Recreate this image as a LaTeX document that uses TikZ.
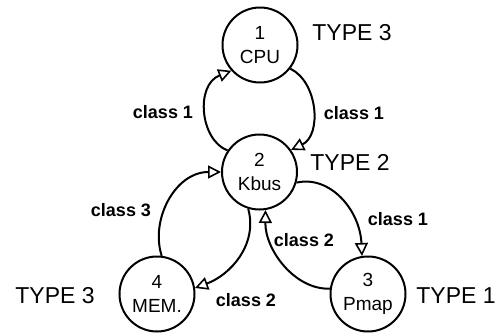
\documentclass[tikz,border=0pt]{standalone}
\usepackage{fontspec}
\setmainfont{Liberation Sans}
\usetikzlibrary{arrows.meta}
\begin{document}
\begin{tikzpicture}[x=1pt,y=-1pt,
  unit/.style={circle,draw,line width=2pt,minimum size=75pt,inner sep=0pt,align=center,
    font=\fontsize{19}{24}\selectfont},
  typelbl/.style={font=\fontsize{23}{25}\selectfont},
  classlbl/.style={font=\bfseries\fontsize{18}{20}\selectfont},
  link/.style={line width=2pt,-{Triangle[open,length=13pt,width=13pt,line width=1.6pt]}}]
\useasboundingbox (0,0) rectangle (496,335);
\node[unit] (cpu) at (260,45) {1\\CPU};
\node[unit] (kbus) at (259.5,172) {2\\Kbus};
\node[unit] (mem) at (157,294) {4\\MEM.};
\node[unit] (pmap) at (368,294) {3\\Pmap};
\node[typelbl] (t1) at (352,33) {TYPE 3};
\node[typelbl] (t2) at (350,162) {TYPE 2};
\node[typelbl] (t3) at (55,296) {TYPE 3};
\node[typelbl] (t4) at (456,296) {TYPE 1};
\node[classlbl] (c1) at (163,112) {class 1};
\node[classlbl] (c2) at (354,113) {class 1};
\node[classlbl] (c3) at (121,210) {class 3};
\node[classlbl] (c4) at (398,219) {class 1};
\node[classlbl] (c5) at (304,240) {class 2};
\node[classlbl] (c6) at (246,300) {class 2};
\draw[link] (kbus.146) .. controls (200,140) and (195,85) .. (cpu.222);
\draw[link] (cpu.322) .. controls (318,82) and (322,135) .. (kbus.35);
\draw[link] (mem.83) .. controls (150,220) and (175,172) .. (kbus.180);
\draw[link] (kbus.253) .. controls (258,245) and (230,275) .. (mem.9);
\draw[link] (pmap.172) .. controls (295,290) and (265,250) .. (kbus.279);
\draw[link] (kbus.344) .. controls (330,175) and (360,210) .. (pmap.99);
\end{tikzpicture}
\end{document}
